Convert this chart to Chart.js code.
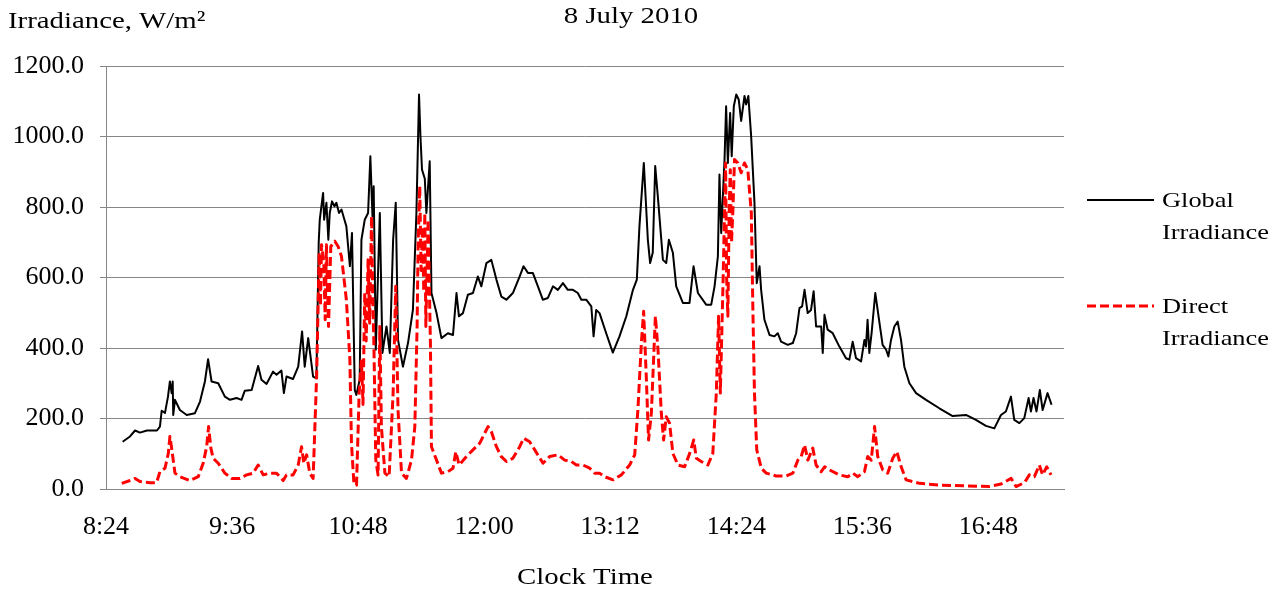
<!DOCTYPE html>
<html>
<head>
<meta charset="utf-8">
<title>8 July 2010</title>
<script src="https://cdn.jsdelivr.net/npm/chart.js@4.4.1/dist/chart.umd.min.js"></script>
<style>
    html, body { margin: 0; padding: 0; background: #fff; }
    #wrap { width: 1284px; height: 593px; }
</style>
</head>
<body>
<div id="wrap"><canvas id="irrChart" width="1284" height="593"></canvas></div>
<script>
// Clock time in minutes after midnight, irradiance in W/m2
const globalTime = [
    513.5, 517.7, 520.6, 523.4, 527.4, 533.1, 534.8, 535.8, 537.7, 539.4, 540.5, 541.5, 542.1, 542.4, 543.4,
    546.2, 550.1, 554.8, 557.7, 560.5, 562.3, 564.3, 568.1, 571.9, 574.8, 578.6, 581.4, 583.3, 587.2, 589.0,
    590.9, 592.8, 595.7, 599.4, 601.4, 604.2, 605.6, 607.1, 610.8, 613.8, 616.0, 617.5, 619.5, 622.3, 624.2,
    625.5, 626.1, 628.0, 628.6, 629.9, 631.0, 631.8, 633.1, 634.5, 635.6, 637.1, 638.5, 640.2, 641.3, 643.3,
    644.5, 646.1, 647.0, 648.9, 649.9, 651.8, 653.7, 655.0, 656.2, 656.9, 658.1, 660.4, 661.9, 664.2, 666.1,
    668.0, 669.5, 670.8, 673.6, 676.5, 679.3, 681.3, 682.8, 683.6, 684.5, 686.1, 687.0, 688.9, 689.9, 692.8,
    695.6, 699.3, 702.2, 704.2, 705.6, 707.9, 710.7, 713.6, 716.4, 718.4, 721.3, 724.1, 727.0, 729.8, 732.7,
    736.4, 740.3, 742.5, 745.0, 747.8, 750.7, 753.5, 756.4, 759.3, 762.1, 765.0, 767.8, 770.7, 773.5, 775.5,
    778.3, 781.2, 782.5, 784.0, 785.9, 789.7, 793.5, 797.3, 801.2, 805.0, 807.2, 808.7, 811.2, 813.5, 814.8,
    816.3, 817.7, 819.2, 822.1, 824.0, 825.5, 827.8, 829.7, 833.5, 837.3, 839.6, 842.1, 846.8, 849.7, 851.6,
    853.5, 854.4, 855.4, 857.3, 858.2, 859.2, 860.5, 861.4, 862.6, 864.0, 865.4, 866.8, 868.7, 869.6, 870.9,
    872.5, 874.4, 875.7, 877.3, 878.2, 880.1, 883.0, 885.8, 887.7, 889.6, 893.4, 896.3, 898.2, 900.1, 901.6,
    903.0, 904.8, 906.7, 908.2, 909.6, 912.5, 913.4, 914.4, 916.2, 919.1, 922.9, 926.7, 928.6, 930.5, 932.4,
    935.3, 937.2, 938.1, 939.0, 940.0, 941.3, 943.4, 945.8, 947.6, 949.6, 950.9, 952.4, 954.3, 956.2, 958.1,
    960.0, 962.9, 966.7, 972.4, 980.0, 987.6, 995.2, 1000.9, 1006.6, 1011.4, 1015.2, 1018.0, 1020.9, 1022.8, 1025.7,
    1028.5, 1031.0, 1032.3, 1033.8, 1035.5, 1037.4, 1039.0, 1041.8, 1044.1
];
const globalIrr = [
    134, 149, 166, 160, 166, 166, 177, 222, 216, 262, 305, 272, 305, 210, 253,
    224, 210, 215, 248, 305, 368, 305, 300, 262, 253, 258, 253, 279, 281, 314,
    349, 310, 298, 333, 324, 336, 272, 319, 312, 347, 447, 347, 428, 319, 314,
    700, 764, 840, 764, 812, 707, 783, 816, 802, 812, 783, 793, 764, 745, 632,
    726, 281, 267, 310, 707, 764, 783, 944, 774, 859, 395, 783, 386, 461, 386,
    707, 812, 423, 347, 414, 508, 783, 1119, 1001, 906, 880, 783, 930, 556, 499,
    428, 442, 437, 556, 490, 499, 551, 556, 603, 575, 641, 650, 594, 546, 537,
    556, 603, 632, 613, 613, 575, 537, 542, 575, 565, 584, 565, 565, 556, 537,
    537, 518, 433, 508, 499, 442, 387, 433, 490, 565, 594, 745, 925, 707, 641,
    670, 916, 830, 650, 641, 707, 670, 575, 528, 528, 632, 556, 523, 523, 575,
    660, 892, 726, 935, 1086, 925, 1067, 944, 1086, 1119, 1105, 1044, 1115, 1091, 1115,
    1001, 812, 584, 632, 565, 480, 437, 433, 442, 418, 409, 414, 442, 513, 518,
    565, 499, 508, 561, 461, 461, 386, 494, 452, 442, 404, 371, 367, 418, 371,
    362, 423, 404, 480, 386, 442, 556, 471, 409, 395, 376, 423, 461, 475, 423,
    347, 300, 272, 253, 229, 207, 210, 196, 179, 172, 210, 220, 262, 196, 187,
    201, 258, 220, 258, 220, 281, 224, 272, 239
];

const directTime = [
    513.0, 517.7, 520.6, 523.4, 529.1, 532.9, 534.8, 537.7, 539.6, 540.5, 541.5, 542.4, 543.4, 546.2, 551.9,
    556.7, 559.5, 561.5, 562.6, 563.9, 565.2, 568.1, 571.9, 575.7, 580.5, 584.3, 588.1, 590.9, 593.8, 597.6,
    601.4, 605.2, 607.1, 610.9, 613.8, 615.7, 617.0, 618.6, 620.4, 622.3, 624.3, 625.8, 626.5, 627.1, 628.4,
    629.2, 629.9, 631.1, 632.4, 634.7, 636.6, 638.5, 641.3, 643.3, 644.2, 645.6, 647.1, 648.6, 649.9, 650.8,
    651.8, 652.6, 653.7, 654.6, 655.7, 656.3, 657.0, 658.1, 659.4, 660.4, 661.3, 663.3, 665.7, 668.0, 669.5,
    670.8, 672.8, 675.6, 678.5, 680.4, 681.7, 682.3, 683.2, 684.0, 684.8, 685.5, 686.1, 686.7, 688.0, 689.3,
    689.9, 692.8, 695.6, 699.3, 702.2, 703.8, 705.7, 709.9, 713.6, 717.5, 720.3, 722.2, 724.1, 727.0, 729.8,
    732.7, 736.4, 740.3, 742.6, 746.0, 748.9, 753.6, 757.4, 762.2, 766.0, 769.8, 772.7, 776.4, 780.3, 783.1,
    785.9, 788.8, 793.6, 798.4, 803.1, 806.0, 807.8, 809.8, 811.1, 812.6, 813.9, 815.5, 817.8, 819.3, 821.2,
    822.5, 824.0, 825.9, 827.8, 830.7, 834.5, 837.4, 839.7, 841.2, 844.0, 847.8, 850.6, 852.6, 853.9, 854.9,
    856.4, 857.9, 858.5, 859.2, 860.0, 860.6, 861.3, 862.1, 863.0, 864.9, 866.8, 868.7, 870.6, 872.6, 873.5,
    874.4, 875.7, 878.3, 881.1, 886.8, 892.5, 896.3, 899.2, 901.1, 903.0, 904.9, 907.7, 909.6, 912.5, 914.5,
    917.3, 922.9, 927.7, 930.6, 933.4, 937.2, 939.1, 941.1, 943.0, 944.8, 947.7, 950.5, 953.4, 955.7, 958.2,
    961.0, 968.6, 980.1, 995.3, 1008.6, 1015.3, 1021.0, 1023.8, 1028.6, 1031.4, 1034.3, 1037.1, 1039.0, 1041.3, 1043.8
];
const directIrr = [
    16, 24, 30, 21, 18, 18, 49, 59, 101, 149, 116, 82, 45, 35, 24,
    35, 73, 120, 177, 116, 87, 73, 45, 30, 30, 40, 45, 68, 40, 45,
    45, 24, 40, 40, 68, 120, 73, 97, 45, 30, 319, 670, 520, 693, 641,
    480, 693, 461, 688, 703, 688, 660, 537, 367, 130, 16, 11, 272, 367, 240,
    556, 420, 650, 470, 774, 560, 414, 82, 40, 461, 177, 45, 35, 272, 575,
    224, 45, 30, 82, 177, 461, 700, 859, 620, 745, 560, 783, 461, 764, 414,
    120, 82, 45, 49, 59, 106, 68, 92, 111, 130, 158, 177, 163, 120, 92,
    78, 87, 120, 144, 134, 111, 73, 92, 97, 82, 78, 68, 68, 59, 45,
    45, 35, 26, 40, 68, 97, 224, 414, 504, 319, 139, 215, 490, 395, 215,
    139, 205, 187, 101, 68, 63, 101, 139, 87, 78, 68, 101, 272, 490, 272,
    575, 925, 600, 490, 800, 906, 700, 793, 935, 925, 897, 925, 906, 783, 508,
    272, 111, 59, 45, 37, 37, 45, 82, 92, 125, 82, 116, 68, 49, 63,
    54, 40, 35, 45, 35, 49, 92, 82, 177, 92, 54, 45, 87, 106, 63,
    26, 16, 11, 9, 7, 14, 30, 7, 18, 40, 35, 68, 40, 63, 40
];

const timeTicks = ['8:24', '9:36', '10:48', '12:00', '13:12', '14:24', '15:36', '16:48'];
const irrTicks = [0, 200, 400, 600, 800, 1000, 1200];

const toMinutes = (s) => {
    const [h, m] = s.split(':').map(Number);
    return h * 60 + m;
};
const formatClock = (v) => Math.floor(v / 60) + ':' + String(Math.round(v % 60)).padStart(2, '0');

const SERIF = '"Liberation Serif", "Times New Roman", serif';
const GRID_GREY = '#868686';

// Excel-style texts (titles + legend), slightly wide like the original export
const chartTextPlugin = {
    id: 'chartText',
    afterDraw: (chart) => {
        const { ctx, chartArea } = chart;
        const wideText = (txt, x, y, size, align) => {
            ctx.save();
            ctx.translate(x, y);
            ctx.scale(1.2, 1);
            ctx.font = size + 'px ' + SERIF;
            ctx.textAlign = align;
            ctx.textBaseline = 'middle';
            ctx.fillStyle = '#000';
            ctx.fillText(txt, 0, 0);
            ctx.restore();
        };

        wideText('Irradiance, W/m²', 8, 22, 24, 'left');
        wideText('8 July 2010', 631, 17, 24, 'center');
        wideText('Clock Time', (chartArea.left + chartArea.right) / 2, 578, 24, 'center');

        // Legend
        const rows = [
            { ds: chart.data.datasets[0], y: 200, lines: ['Global', 'Irradiance'] },
            { ds: chart.data.datasets[1], y: 306, lines: ['Direct', 'Irradiance'] }
        ];
        rows.forEach(r => {
            ctx.save();
            ctx.strokeStyle = r.ds.borderColor;
            ctx.lineWidth = r.ds.borderWidth;
            ctx.setLineDash(r.ds.borderDash || []);
            ctx.beginPath();
            ctx.moveTo(1087, r.y);
            ctx.lineTo(1154, r.y);
            ctx.stroke();
            ctx.restore();
            r.lines.forEach((t, i) => wideText(t, 1162, r.y + 1 + i * 32, 22, 'left'));
        });
    }
};

const ctx = document.getElementById('irrChart').getContext('2d');

new Chart(ctx, {
    type: 'line',
    data: {
        datasets: [
            {
                label: 'Global Irradiance',
                data: globalTime.map((t, i) => ({ x: t, y: globalIrr[i] })),
                borderColor: '#000000',
                borderWidth: 2,
                pointRadius: 0,
                tension: 0,
                borderJoinStyle: 'round',
                order: 2
            },
            {
                label: 'Direct Irradiance',
                data: directTime.map((t, i) => ({ x: t, y: directIrr[i] })),
                borderColor: '#ff0000',
                borderWidth: 3,
                borderDash: [9, 4],
                pointRadius: 0,
                tension: 0,
                borderJoinStyle: 'round',
                order: 1
            }
        ]
    },
    options: {
        responsive: false,
        animation: false,
        layout: {
            padding: { left: 0, right: 220, top: 66, bottom: 0 }
        },
        plugins: {
            legend: { display: false },
            title: { display: false },
            tooltip: { enabled: false }
        },
        scales: {
            x: {
                type: 'linear',
                min: toMinutes(timeTicks[0]),
                max: 1051.2, // 0.73 day
                afterBuildTicks: (scale) => {
                    scale.ticks = timeTicks.map(t => ({ value: toMinutes(t) }));
                },
                afterFit: (scale) => { scale.height = 104; },
                grid: { display: false, drawTicks: false },
                border: { display: true, color: GRID_GREY, width: 1 },
                ticks: {
                    color: '#000',
                    font: { family: SERIF, size: 26 },
                    padding: 23,
                    maxRotation: 0,
                    autoSkip: false,
                    callback: (v) => formatClock(v)
                }
            },
            y: {
                min: 0,
                max: 1200,
                afterBuildTicks: (scale) => {
                    scale.ticks = irrTicks.map(v => ({ value: v }));
                },
                afterFit: (scale) => { scale.width = 106; },
                grid: { color: GRID_GREY, lineWidth: 1, drawTicks: true, tickLength: 6 },
                border: { display: true, color: GRID_GREY, width: 1 },
                ticks: {
                    color: '#000',
                    font: { family: SERIF, size: 26 },
                    padding: 16,
                    callback: (v) => Number(v).toFixed(1)
                }
            }
        }
    },
    plugins: [chartTextPlugin]
});
</script>
</body>
</html>
